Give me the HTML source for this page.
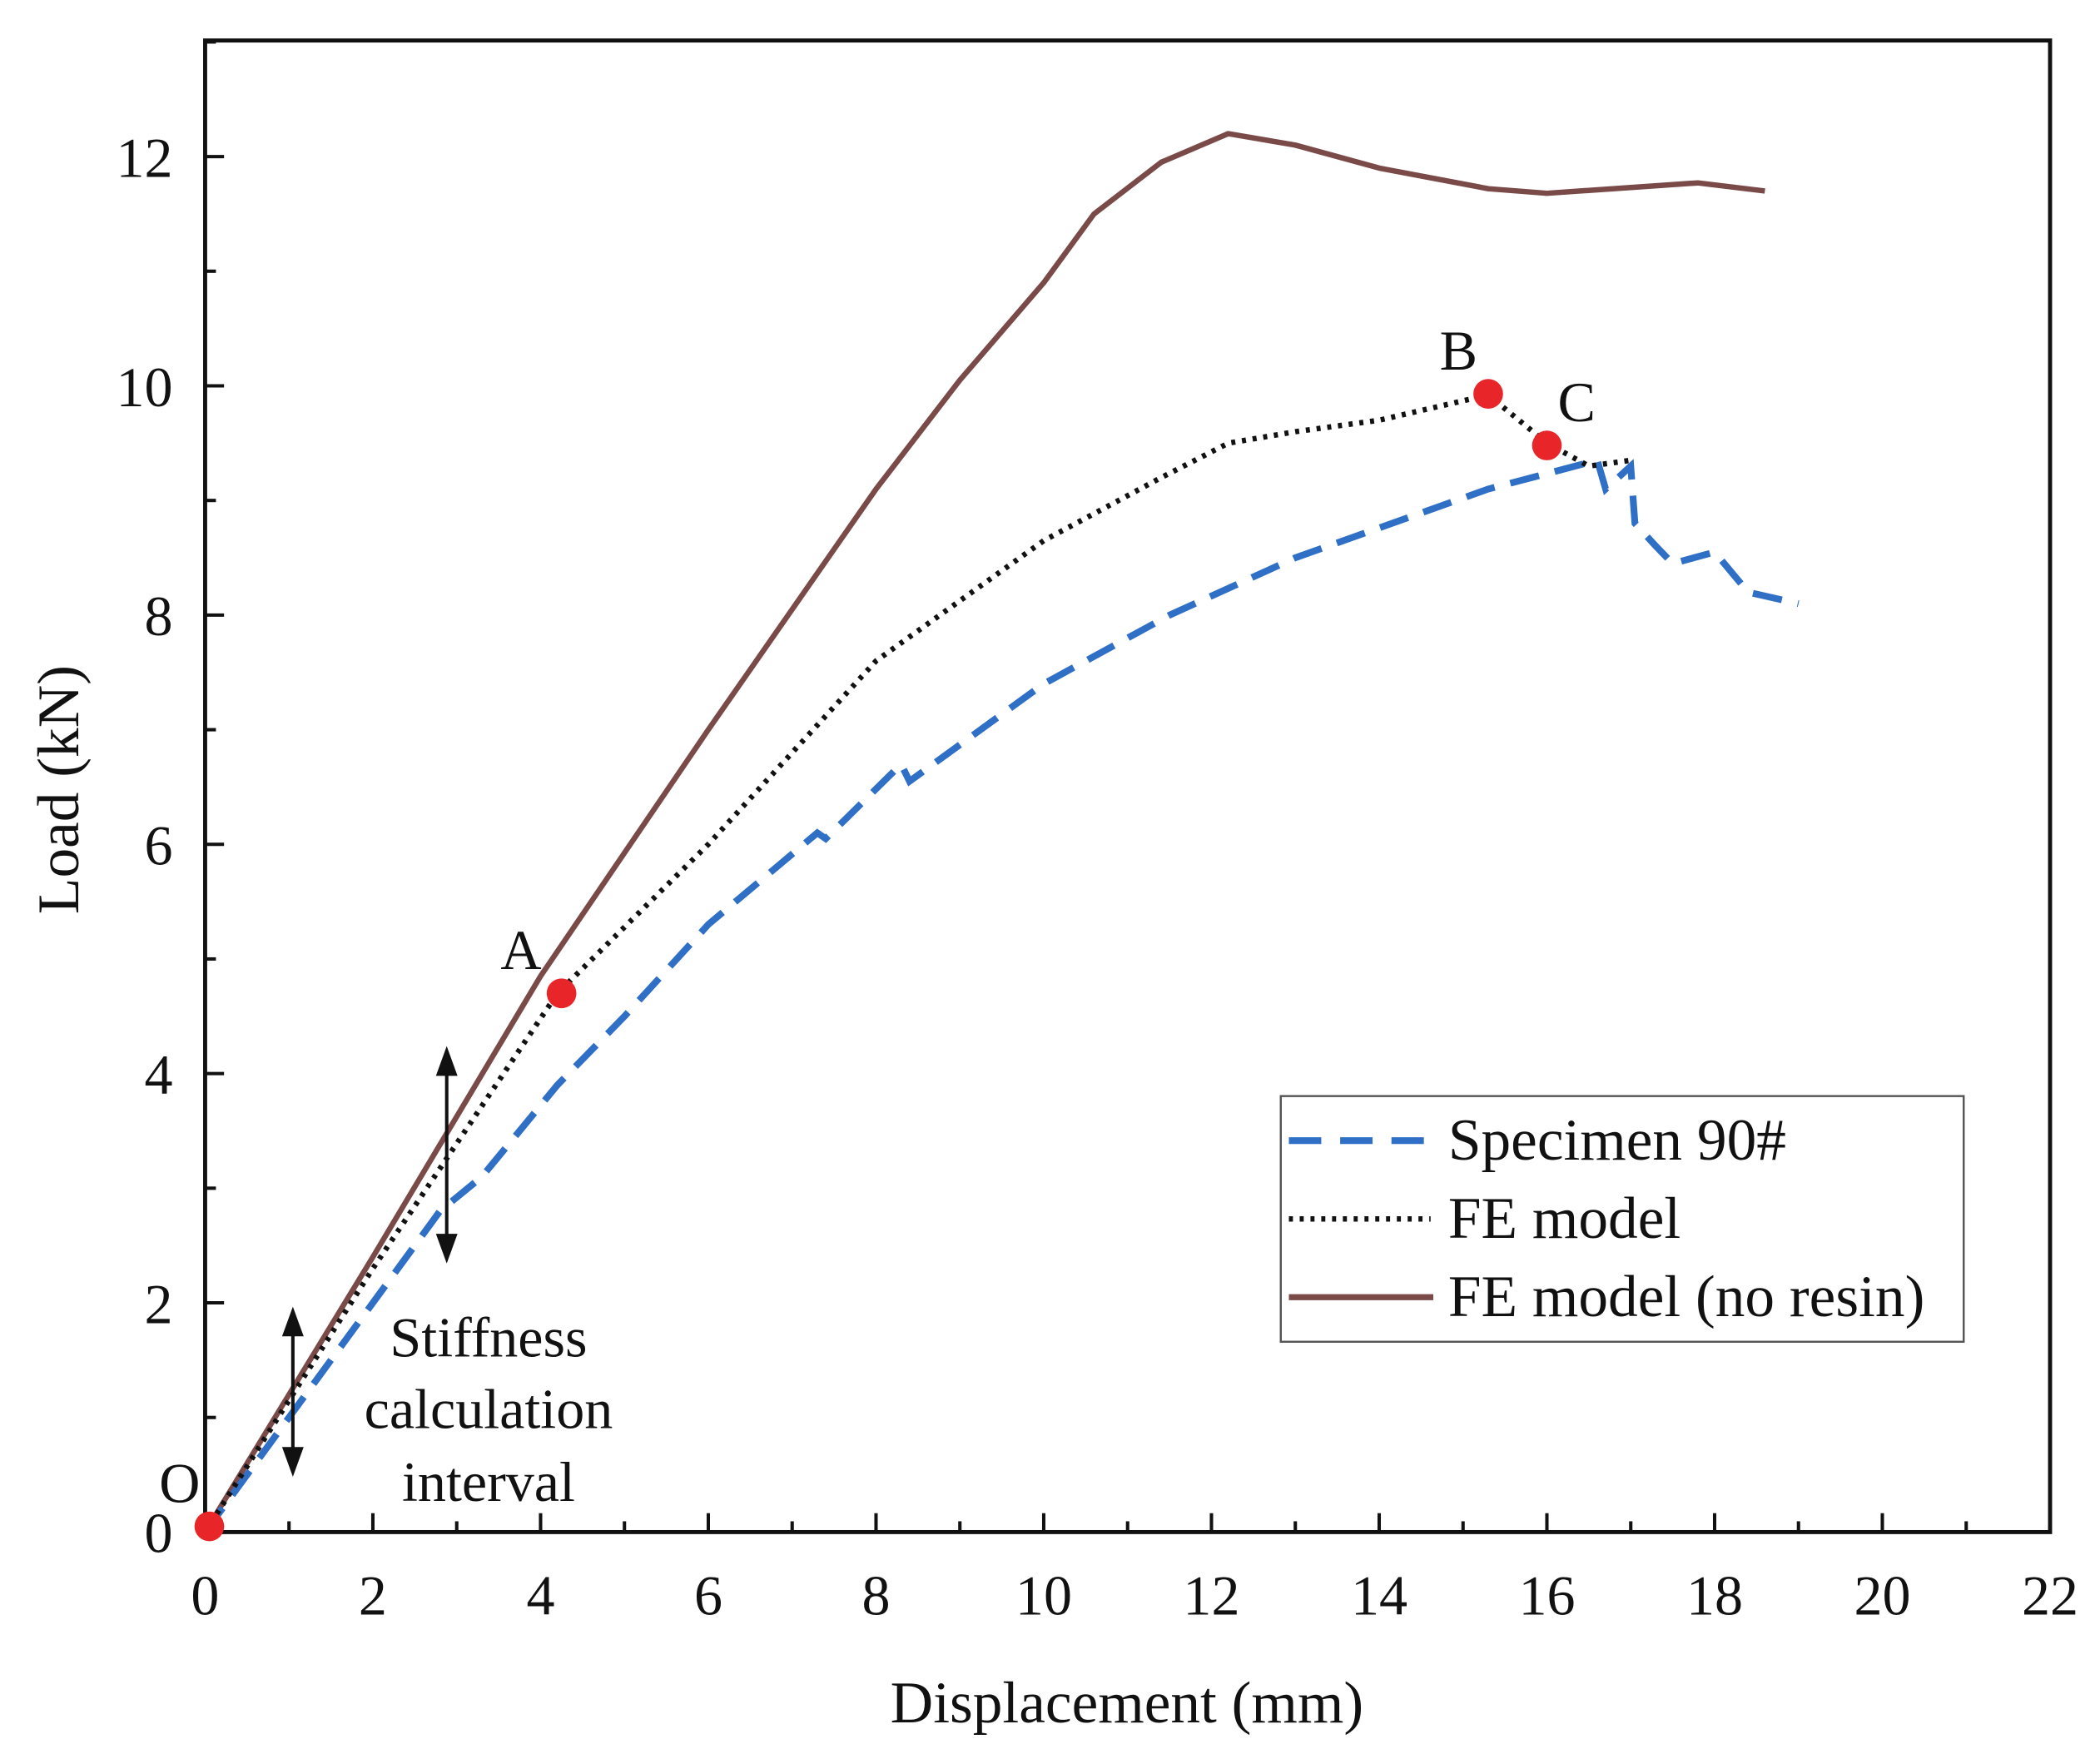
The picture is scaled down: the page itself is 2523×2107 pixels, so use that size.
<!DOCTYPE html>
<html><head><meta charset="utf-8"><style>
html,body{margin:0;padding:0;background:#fff}
svg{display:block}
text{font-family:"Liberation Serif",serif;fill:#111}
</style></head><body>
<svg id="chart" width="2523" height="2107" viewBox="0 0 1556 1299.4" preserveAspectRatio="none" xmlns="http://www.w3.org/2000/svg">
<g id="axes"></g>
<g id="series"></g>
<g id="annot"></g>
<text x="835" y="1276" text-anchor="middle" font-size="44">Displacement (mm)</text>
<text transform="translate(58,585) rotate(-90)" text-anchor="middle" font-size="44">Load (kN)</text>
<g>
<rect x="949" y="812" width="506" height="182" fill="#fff" stroke="#555" stroke-width="1.5"/>
<line x1="955" y1="845" x2="1060" y2="845" stroke="#2f6fc6" stroke-width="5" stroke-dasharray="24,14"/>
<text x="1073" y="859" font-size="44">Specimen 90#</text>
<line x1="955" y1="903" x2="1060" y2="903" stroke="#111" stroke-width="4" stroke-dasharray="3,5"/>
<text x="1073" y="917" font-size="44">FE model</text>
<line x1="955" y1="961" x2="1062" y2="961" stroke="#7a4a48" stroke-width="4.5"/>
<text x="1073" y="975" font-size="44">FE model (no resin)</text>
</g>
</svg>
<script>
const xTicks=[0,2,4,6,8,10,12,14,16,18,20,22];
const yTicks=[0,2,4,6,8,10,12];
const noResinX=[0,2,4,6,8,9,10,10.6,11.4,12.2,13,14,15.3,16,17,17.8,18.6];
const noResinY=[0,2.4,4.85,7.0,9.1,10.05,10.9,11.5,11.95,12.2,12.1,11.9,11.72,11.68,11.73,11.77,11.7];
const feX=[0,2,4.2,6,8,10,11.4,12.2,13,14,15.3,16,16.5,17];
const feY=[0,2.3,4.7,6.0,7.6,8.65,9.2,9.5,9.6,9.7,9.92,9.5,9.3,9.35];
const specX=[0,1,2.8,3.3,4.2,5,6,7.3,7.4,8.3,8.4,10,11.5,13,15.3,16.6,16.7,17,17.05,17.3,17.5,18,18.4,19];
const specY=[0,1.0,2.8,3.1,3.9,4.5,5.3,6.1,6.05,6.7,6.55,7.4,8.0,8.5,9.1,9.35,9.1,9.3,8.8,8.6,8.45,8.55,8.2,8.1];
const markerLabels=['O','A','B','C'];
const markerX=[0.05,4.25,15.3,16.0];
const markerY=[0.05,4.7,9.93,9.48];
const NS='http://www.w3.org/2000/svg';
const X0=152,X1=1519,Y0=1135,Y1=116;
const sx=v=>X0+(X1-X0)*v/22;
const sy=v=>Y0-(Y0-Y1)*v/12;
function mk(tag,attrs,parent){const e=document.createElementNS(NS,tag);for(const k in attrs)e.setAttribute(k,attrs[k]);parent.appendChild(e);return e;}
const axes=document.getElementById('axes');
let f=mk('rect',{x:X0,y:30,width:X1-X0,height:Y0-30,fill:'none',stroke:'#111','stroke-width':3},axes);


for(let v=0;v<=22;v++){
  const maj=v%2===0;
  let t=mk('line',{x1:sx(v),x2:sx(v),y1:Y0,y2:Y0-(maj?14:8),stroke:'#111','stroke-width':2.5},axes);
  
  
}
xTicks.forEach(v=>{
  let t=mk('text',{x:sx(v),y:1196,'text-anchor':'middle','font-size':42},axes);t.textContent=v;
  
  
});
for(let v=0;v<=13;v++){
  const maj=v%2===0;
  let t=mk('line',{x1:X0,x2:X0+(maj?14:8),y1:sy(v),y2:sy(v),stroke:'#111','stroke-width':2.5},axes);
  
  
}
yTicks.forEach(v=>{
  let t=mk('text',{x:128,y:sy(v)+15,'text-anchor':'end','font-size':42},axes);t.textContent=v;
  
  
});
const ser=document.getElementById('series');
function path(xs,ys){return xs.map((x,i)=>(i?'L':'M')+sx(x).toFixed(1)+','+sy(ys[i]).toFixed(1)).join(' ');}
let p1=mk('path',{d:path(noResinX,noResinY),fill:'none',stroke:'#7a4a48','stroke-width':4,'stroke-linejoin':'round'},ser);


let p2=mk('path',{d:path(specX,specY),fill:'none',stroke:'#2f6fc6','stroke-width':5,'stroke-dasharray':'22,12'},ser);


let p3=mk('path',{d:path(feX,feY),fill:'none',stroke:'#111','stroke-width':4,'stroke-dasharray':'3,5'},ser);


const an=document.getElementById('annot');
const lblOff=[[-22,-18],[-30,-18],[-22,-18],[22,-18]];
markerX.forEach((x,i)=>{
  let c=mk('circle',{cx:sx(x),cy:sy(markerY[i]),r:11,fill:'#e8262a'},an);
  
  
  let t=mk('text',{x:sx(x)+lblOff[i][0],y:sy(markerY[i])+lblOff[i][1],'text-anchor':'middle','font-size':42},an);t.textContent=markerLabels[i];
  
  
});
function arrow(x,ya,yb){
  const g=mk('g',{},an);
  
  
  mk('line',{x1:x,x2:x,y1:ya+18,y2:yb-18,stroke:'#111','stroke-width':2.5},g);
  mk('polygon',{points:`${x-8},${ya+22} ${x+8},${ya+22} ${x},${ya}`,fill:'#111'},g);
  mk('polygon',{points:`${x-8},${yb-22} ${x+8},${yb-22} ${x},${yb}`,fill:'#111'},g);
}
arrow(331,775,936);
arrow(217,968,1094);
[['Stiffness',1005],['calculation',1058],['interval',1112]].forEach(([s,y])=>{
  let t=mk('text',{x:362,y:y,'text-anchor':'middle','font-size':42},an);t.textContent=s;
  
  
});
</script>
</body></html>
